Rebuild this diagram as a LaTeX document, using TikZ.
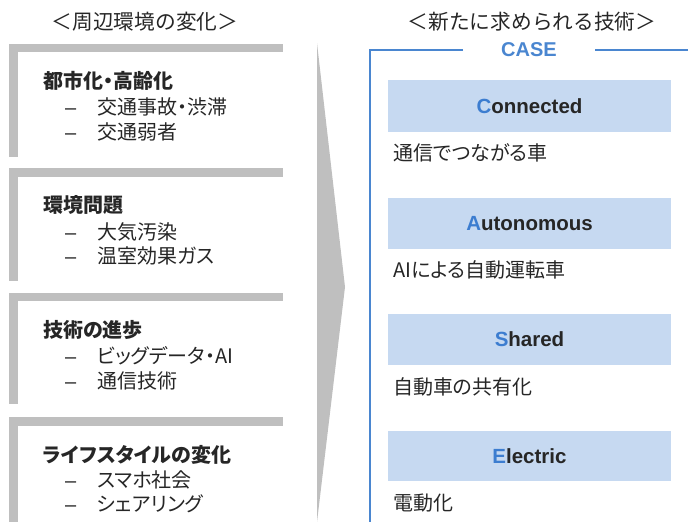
\documentclass[tikz,border=0pt]{standalone}
\usepackage{fontspec}
\setmainfont{Liberation Sans}
\newfontfamily\jp[RawFeature=+palt]{Noto Sans CJK JP}
\newfontfamily\jpfull{Noto Sans CJK JP}
\definecolor{bargray}{HTML}{BFBFBF}
\definecolor{frameblue}{HTML}{4A86D0}
\definecolor{letterblue}{HTML}{3C7DD0}
\definecolor{boxfill}{HTML}{C6D9F1}
\definecolor{txt}{HTML}{262626}
\tikzset{
  head/.style={inner sep=0pt, text=txt, font=\jpfull\fontsize{20.7}{24}\selectfont},
  jtitle/.style={anchor=west, inner sep=0pt, text=txt, font=\jp\bfseries\fontsize{20}{24}\selectfont},
  jitem/.style={anchor=west, inner sep=0pt, text=txt, font=\jp\fontsize{20}{24}\selectfont},
  dashmark/.style={anchor=west, inner sep=0pt, text=txt, font=\fontsize{20}{24}\selectfont},
  casebox/.style={fill=boxfill, draw=none, minimum width=283pt, minimum height=51.5pt, inner sep=0pt,
    text=txt, font=\bfseries\fontsize{20.5}{24}\selectfont},
  jdesc/.style={anchor=west, inner sep=0pt, text=txt, font=\jp\fontsize{20}{24}\selectfont},
}
\newcommand{\dashtxt}{{\jp\fontsize{20}{24}\selectfont\vphantom{交}}–}
\begin{document}
\begin{tikzpicture}[x=1pt,y=-1pt]
\useasboundingbox (0,0) rectangle (688,522);
% headings
\node[head] (h1) at (145,22) {＜周辺環境の変化＞};
\node[head] (h2) at (532,22) {＜新たに求められる技術＞};
% gray transition shape
\fill[bargray] (317,43) -- (345,287) -- (317,522) -- cycle;
% left brackets
\foreach \t/\b in {43.5/156.7, 168/281, 292.5/404, 417/530}{
  \fill[bargray] (9,\t) rectangle (283,\t+8.5);
  \fill[bargray] (9,\t) rectangle (17.5,\b);
}
% box 1
\node[jtitle] (t1) at (43,81) {都市化・高齢化};
\node[dashmark] (d11) at (65,107) {\dashtxt};
\node[jitem] (i11) at (97,107) {交通事故・渋滞};
\node[dashmark] (d12) at (65,131.5) {\dashtxt};
\node[jitem] (i12) at (97,131.5) {交通弱者};
% box 2
\node[jtitle] (t2) at (43,205.5) {環境問題};
\node[dashmark] (d21) at (65,231.5) {\dashtxt};
\node[jitem] (i21) at (97,231.5) {大気汚染};
\node[dashmark] (d22) at (65,256) {\dashtxt};
\node[jitem] (i22) at (97,256) {温室効果ガス};
% box 3
\node[jtitle] (t3) at (43,330) {技術の進歩};
\node[dashmark] (d31) at (65,356) {\dashtxt};
\node[jitem] (i31) at (97,356) {ビッグデータ・AI};
\node[dashmark] (d32) at (65,380.5) {\dashtxt};
\node[jitem] (i32) at (97,380.5) {通信技術};
% box 4
\node[jtitle] (t4) at (43,454.5) {ライフスタイルの変化};
\node[dashmark] (d41) at (65,480) {\dashtxt};
\node[jitem] (i41) at (97,480) {スマホ社会};
\node[dashmark] (d42) at (65,504) {\dashtxt};
\node[jitem] (i42) at (97,504) {シェアリング};
% CASE frame
\node[inner sep=0pt, text=frameblue, font=\bfseries\fontsize{20}{24}\selectfont] (case) at (529,50) {CASE};
\coordinate (fr1) at (688,50);
\coordinate (fr2) at (595,50);
\coordinate (fl1) at (463,50);
\coordinate (fl2) at (370,50);
\coordinate (fl3) at (370,522);
\draw[frameblue, line width=2.5pt] (fr1) -- (fr2);
\draw[frameblue, line width=2.5pt] (fl1) -- (fl2) -- (fl3);
% CASE boxes
\node[casebox] (c) at (529.5,106) {\textcolor{letterblue}{C}onnected};
\node[jdesc] (cd) at (393,153) {通信でつながる車};
\node[casebox] (a) at (529.5,223.5) {\textcolor{letterblue}{A}utonomous};
\node[jdesc] (ad) at (393,270) {AIによる自動運転車};
\node[casebox] (s) at (529.5,339.5) {\textcolor{letterblue}{S}hared};
\node[jdesc] (sd) at (393,387) {自動車の共有化};
\node[casebox, minimum height=50pt] (e) at (529.5,456) {\textcolor{letterblue}{E}lectric};
\node[jdesc] (ed) at (393,503) {電動化};
\end{tikzpicture}
\end{document}
